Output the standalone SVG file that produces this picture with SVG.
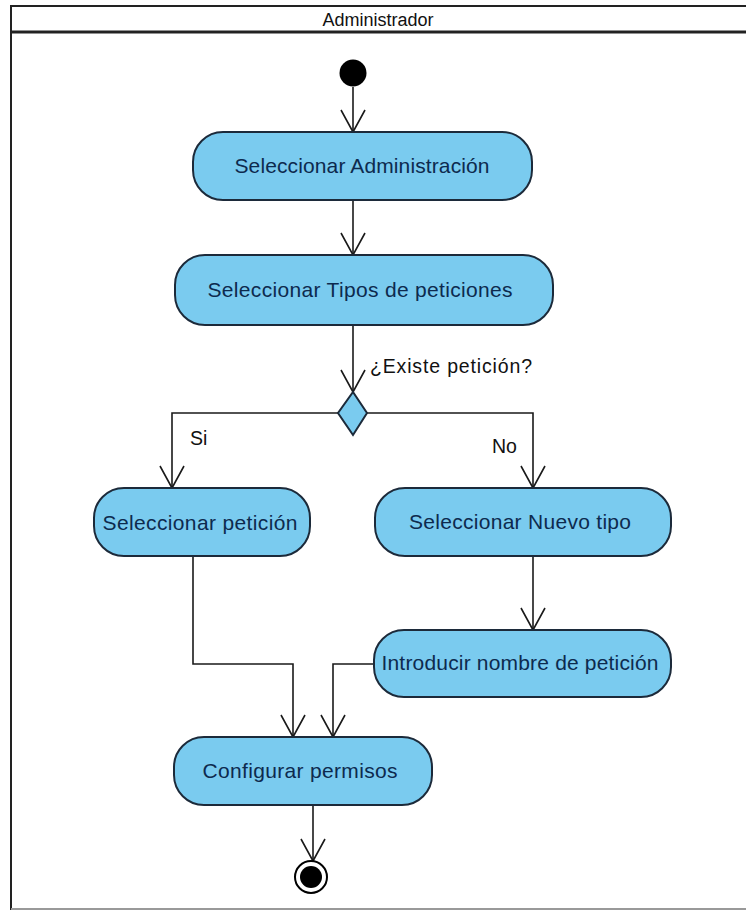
<svg xmlns="http://www.w3.org/2000/svg" width="746" height="912" viewBox="0 0 746 912">
<defs>
<style>
.node rect{fill:#7acbef;stroke:#1c2a3a;stroke-width:2}
.node text{font-family:"Liberation Sans",Arial,sans-serif;font-size:21px;fill:#0d2a4e;text-anchor:middle}
.lbl{font-family:"Liberation Sans",Arial,sans-serif;font-size:19.5px;fill:#111}
.conn path{fill:none;stroke:#1a1a1a;stroke-width:1.6;marker-end:url(#arr)}
</style>
<marker id="arr" viewBox="-24 -14 26 28" refX="0" refY="0" markerWidth="26" markerHeight="28" markerUnits="userSpaceOnUse" orient="auto">
<path d="M-22,-12 L0,0 L-22,12" fill="none" stroke="#1a1a1a" stroke-width="1.6"/>
</marker>
</defs>
<rect width="746" height="912" fill="#fff"/>
<g id="frame">
<rect x="11" y="6" width="760" height="903" fill="none" stroke="#222" stroke-width="2"/>
<line x1="11" y1="909" x2="746" y2="909" stroke="#999" stroke-width="2"/>
<line x1="11" y1="32" x2="746" y2="32" stroke="#222" stroke-width="3"/>
<text x="378" y="26" text-anchor="middle" font-family="Liberation Sans,Arial,sans-serif" font-size="18" fill="#111">Administrador</text>
</g>
<g class="conn" id="connectors">
<path d="M353,87 L353,132"/>
<path d="M353,200 L353,255"/>
<path d="M353,325 L353,392"/>
<path d="M338,413 L172,413 L172,488"/>
<path d="M367,413 L533,413 L533,488"/>
<path d="M193,556 L193,664 L293,664 L293,737"/>
<path d="M374,664 L333,664 L333,737"/>
<path d="M533,556 L533,630"/>
<path d="M313,805 L313,861"/>
</g>
<g id="labels">
<text class="lbl" x="370" y="373" textLength="162">¿Existe petición?</text>
<text class="lbl" x="190" y="445">Si</text>
<text class="lbl" x="492" y="453">No</text>
</g>
<g id="start"><circle cx="353" cy="73" r="13.5" fill="#000"/></g>
<g class="node" id="n1"><rect x="193" y="132" width="339" height="68" rx="30"/><text x="362" y="173" textLength="255">Seleccionar Administración</text></g>
<g class="node" id="n2"><rect x="175" y="255" width="378" height="70" rx="30"/><text x="360" y="297" textLength="305">Seleccionar Tipos de peticiones</text></g>
<g id="decision"><polygon points="353,392 367,413 353,435 338,413" fill="#7acbef" stroke="#1c2a3a" stroke-width="2"/></g>
<g class="node" id="n3"><rect x="94" y="488" width="216" height="68" rx="30"/><text x="200" y="530" textLength="195">Seleccionar petición</text></g>
<g class="node" id="n4"><rect x="375" y="488" width="296" height="68" rx="30"/><text x="520" y="529" textLength="222">Seleccionar Nuevo tipo</text></g>
<g class="node" id="n5"><rect x="374" y="630" width="297" height="67" rx="30"/><text x="520" y="670" textLength="277">Introducir nombre de petición</text></g>
<g class="node" id="n6"><rect x="174" y="737" width="258" height="68" rx="30"/><text x="300" y="778" textLength="195">Configurar permisos</text></g>
<g id="end"><circle cx="311" cy="877" r="16" fill="#fff" stroke="#000" stroke-width="2"/><circle cx="311" cy="877" r="11" fill="#000"/></g>
</svg>
